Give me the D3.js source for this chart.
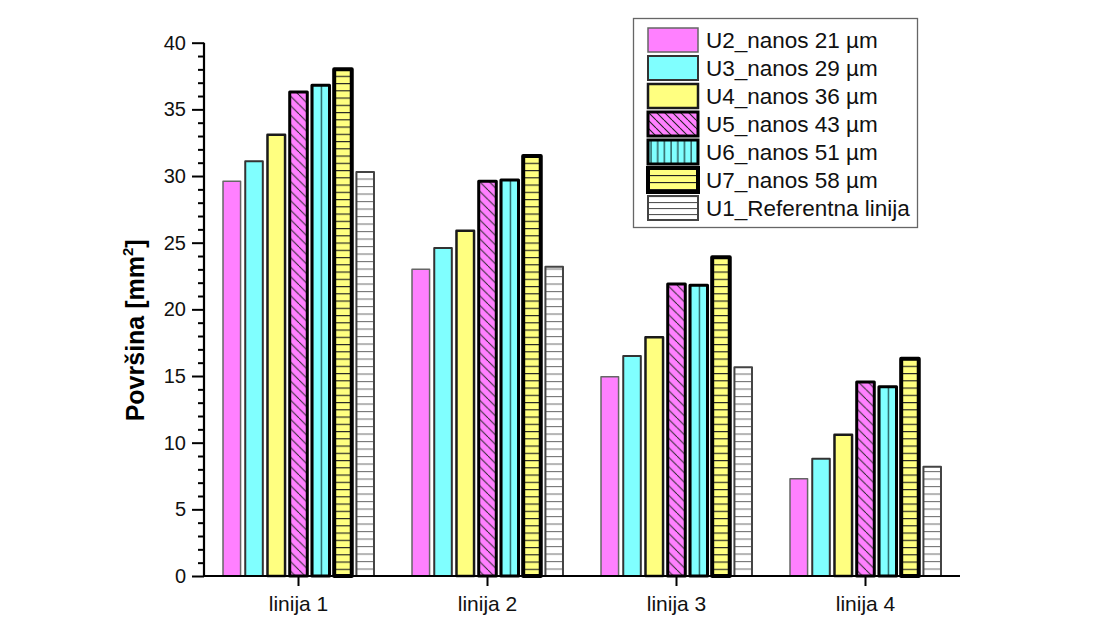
<!DOCTYPE html>
<html>
<head>
<meta charset="utf-8">
<script src="https://cdn.jsdelivr.net/npm/d3@7"></script>
<style>
  body { margin: 0; background: #fff; }
  svg { display: block; font-family: "Liberation Sans", Arial, sans-serif; }
</style>
</head>
<body>
<svg id="chart" width="1095" height="625"></svg>
<script>
// ---- data ----
const categories = ["linija 1", "linija 2", "linija 3", "linija 4"];
const seriesNames = ["U2_nanos 21 µm", "U3_nanos 29 µm", "U4_nanos 36 µm", "U5_nanos 43 µm", "U6_nanos 51 µm", "U7_nanos 58 µm", "U1_Referentna linija"];
const U2 = [29.6, 23.0, 14.95, 7.3];
const U3 = [31.1, 24.6, 16.5, 8.8];
const U4 = [33.1, 25.9, 17.9, 10.6];
const U5 = [36.3, 29.6, 21.9, 14.55];
const U6 = [36.8, 29.7, 21.8, 14.2];
const U7 = [38.0, 31.5, 23.9, 16.3];
const U1 = [30.3, 23.2, 15.65, 8.2];
const seriesValues = [U2, U3, U4, U5, U6, U7, U1];
const yTicks = [0, 5, 10, 15, 20, 25, 30, 35, 40];
const yLabel = "Površina [mm";

// ---- styles ----
const styles = [
  {fill: "#ff80ff", stroke: "#666", sw: 1.5, pat: null},
  {fill: "#80ffff", stroke: "#333", sw: 2, pat: null},
  {fill: "#ffff80", stroke: "#1a1a1a", sw: 2.5, pat: null},
  {fill: "#ff80ff", stroke: "#000", sw: 3, pat: "diag"},
  {fill: "#80ffff", stroke: "#000", sw: 3, pat: "vert"},
  {fill: "#ffff80", stroke: "#000", sw: 4, pat: "horizY"},
  {fill: "#ffffff", stroke: "#444", sw: 2, pat: "horizW"}
];

const svg = d3.select("#chart");
const plot = {left: 204, right: 960, top: 42.7, bottom: 576};

const x0 = d3.scaleBand().domain(categories).range([plot.left, plot.right]).paddingInner(0).paddingOuter(0);
const x1 = d3.scaleBand().domain(d3.range(seriesNames.length)).range([0, x0.bandwidth()]).paddingInner(0.21).paddingOuter(0.855);
const y = d3.scaleLinear().domain([0, 40]).range([plot.bottom, plot.top]);

// ---- patterns ----
const defs = svg.append("defs");
function bgPattern(id, fill, w, h, draw, yOff) {
  const p = defs.append("pattern").attr("id", id).attr("patternUnits", "userSpaceOnUse")
    .attr("width", w).attr("height", h).attr("x", 0).attr("y", yOff || 0);
  p.append("rect").attr("width", w).attr("height", h).attr("fill", fill);
  draw(p, w, h);
  return p;
}
// diagonal "\" hatch
bgPattern("diag", "#ff80ff", 9.5, 9.5, (p, w, h) => {
  p.append("path").attr("d", `M0,0L${w},${h}M${-w},0L0,${h}M${w},0L${2 * w},${h}`)
    .attr("stroke", "#2a2a2a").attr("stroke-width", 1);
});
// horizontal lines, yellow
bgPattern("horizY", "#ffff80", 10, 7.25, (p, w, h) => {
  p.append("line").attr("x1", 0).attr("x2", w).attr("y1", 0.5).attr("y2", 0.5).attr("stroke", "#222").attr("stroke-width", 1.3);
}, plot.bottom);
// horizontal lines, white
bgPattern("horizW", "#ffffff", 10, 7.5, (p, w, h) => {
  p.append("line").attr("x1", 0).attr("x2", w).attr("y1", 0.5).attr("y2", 0.5).attr("stroke", "#777").attr("stroke-width", 1.2);
}, plot.bottom);
// vertical lines for bars (one in the centre)
const pv = defs.append("pattern").attr("id", "vert").attr("patternUnits", "objectBoundingBox")
  .attr("patternContentUnits", "objectBoundingBox").attr("width", 0.5).attr("height", 1);
pv.append("rect").attr("width", 0.5).attr("height", 1).attr("fill", "#80ffff");
pv.append("rect").attr("x", 0).attr("width", 0.07).attr("height", 1).attr("fill", "#1a4a4a");
// legend patterns
bgPattern("vertL", "#80ffff", 6.7, 10, (p, w, h) => {
  p.append("line").attr("x1", 3).attr("x2", 3).attr("y1", 0).attr("y2", h).attr("stroke", "#1a3a3a").attr("stroke-width", 1.2);
});
bgPattern("diagL", "#ff80ff", 8, 8, (p, w, h) => {
  p.append("path").attr("d", `M0,0L${w},${h}M${-w},0L0,${h}M${w},0L${2 * w},${h}`)
    .attr("stroke", "#222").attr("stroke-width", 1.1);
});
bgPattern("horizYL", "#ffff80", 10, 7, (p, w, h) => {
  p.append("line").attr("x1", 0).attr("x2", w).attr("y1", 0.5).attr("y2", 0.5).attr("stroke", "#222").attr("stroke-width", 1.3);
});
bgPattern("horizWL", "#ffffff", 10, 6, (p, w, h) => {
  p.append("line").attr("x1", 0).attr("x2", w).attr("y1", 0.5).attr("y2", 0.5).attr("stroke", "#555").attr("stroke-width", 1.2);
});

function fillFor(s, legend) {
  if (!s.pat) return s.fill;
  const map = legend ? {diag: "diagL", vert: "vertL", horizY: "horizYL", horizW: "horizWL"} : {diag: "diag", vert: "vert", horizY: "horizY", horizW: "horizW"};
  return `url(#${map[s.pat]})`;
}

// ---- bars ----
const groups = svg.append("g").selectAll("g").data(categories).join("g")
  .attr("transform", d => `translate(${x0(d)},0)`);
groups.selectAll("rect")
  .data((c, ci) => seriesValues.map((vals, si) => ({si, v: vals[ci]})))
  .join("rect")
  .attr("x", d => x1(d.si))
  .attr("width", x1.bandwidth())
  .attr("y", d => y(d.v))
  .attr("height", d => y(0) - y(d.v))
  .attr("fill", d => fillFor(styles[d.si], false))
  .attr("stroke", d => styles[d.si].stroke)
  .attr("stroke-width", d => styles[d.si].sw)
  .attr("stroke-linejoin", "round");

// ---- axes ----
const yAxisG = svg.append("g").attr("transform", `translate(${plot.left},0)`);
yAxisG.call(d3.axisLeft(y).tickValues(yTicks).tickSize(12).tickPadding(6).tickFormat(d3.format("d")));
const yMinor = svg.append("g").attr("transform", `translate(${plot.left},0)`);
yMinor.call(d3.axisLeft(y).tickValues(d3.range(0, 41, 1).filter(v => v % 5 !== 0)).tickSize(6).tickFormat(""));
yMinor.select(".domain").remove();
[yAxisG, yMinor].forEach(g => {
  g.selectAll("line").attr("stroke", "#000").attr("stroke-width", 2);
});
yAxisG.select(".domain").attr("d", `M0,${plot.top}V${plot.bottom}`).attr("stroke", "#000").attr("stroke-width", 2.2);
yAxisG.selectAll("text").attr("font-size", 20).attr("fill", "#111").attr("font-family", "Liberation Sans, Arial, sans-serif");

const xAxisG = svg.append("g").attr("transform", `translate(0,${plot.bottom})`);
xAxisG.call(d3.axisBottom(x0).tickSize(10).tickPadding(10).tickSizeOuter(0));
xAxisG.select(".domain").attr("d", `M${plot.left},0H${plot.right}`).attr("stroke", "#000").attr("stroke-width", 2.2);
xAxisG.selectAll("line").attr("stroke", "#000").attr("stroke-width", 2);
xAxisG.selectAll("text").attr("font-size", 21).attr("fill", "#111").attr("font-family", "Liberation Sans, Arial, sans-serif");

// ---- y label ----
const yl = svg.append("text")
  .attr("transform", `translate(144,${(plot.top + plot.bottom) / 2 + 21}) rotate(-90)`)
  .attr("text-anchor", "middle")
  .attr("font-size", 25).attr("font-weight", "bold").attr("fill", "#000");
yl.append("tspan").text(yLabel);
yl.append("tspan").attr("dy", -11).attr("font-size", 15).text("2");
yl.append("tspan").attr("dy", 11).text("]");

// ---- legend ----
const leg = svg.append("g");
leg.append("rect").attr("x", 633.5).attr("y", 18.5).attr("width", 284).attr("height", 209)
  .attr("fill", "#fff").attr("stroke", "#666").attr("stroke-width", 1.3);
const rows = leg.selectAll("g.row").data(seriesNames).join("g").attr("class", "row")
  .attr("transform", (d, i) => `translate(648,${28 + i * 28})`);
rows.append("rect").attr("width", 50).attr("height", 24)
  .attr("fill", (d, i) => fillFor(styles[i], true))
  .attr("stroke", (d, i) => styles[i].stroke)
  .attr("stroke-width", (d, i) => styles[i].sw);
rows.append("text").attr("x", 58).attr("y", 20).attr("font-size", 22.5).attr("fill", "#111").text(d => d);
</script>
</body>
</html>
